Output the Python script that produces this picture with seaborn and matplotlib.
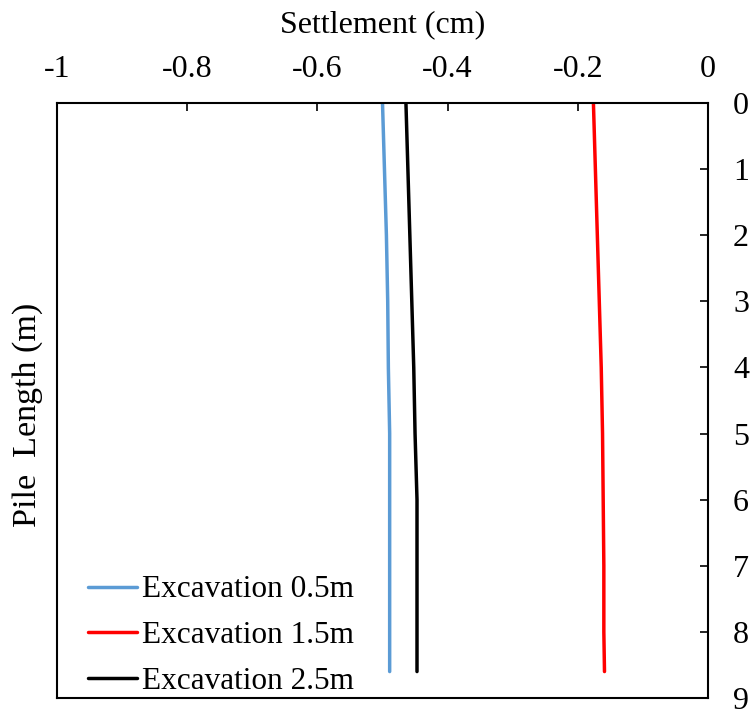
import numpy as np
import pandas as pd
import matplotlib
matplotlib.use("Agg")
import matplotlib.pyplot as plt
import seaborn as sns

# ---- data ----
depth = [0, 1, 2, 3, 4, 5, 6, 7, 8, 8.6]
exc_05 = [-0.500, -0.497, -0.494, -0.492, -0.491, -0.489, -0.489, -0.489, -0.489, -0.489]
exc_15 = [-0.176, -0.173, -0.170, -0.167, -0.164, -0.162, -0.161, -0.160, -0.160, -0.159]
exc_25 = [-0.464, -0.461, -0.458, -0.455, -0.452, -0.450, -0.447, -0.447, -0.447, -0.447]
labels = ["Excavation 0.5m", "Excavation 1.5m", "Excavation 2.5m"]
colors = ["#5B9BD5", "#FF0000", "#000000"]
x_ticks = [-1, -0.8, -0.6, -0.4, -0.2, 0]
x_tick_labels = ["-1", "-0.8", "-0.6", "-0.4", "-0.2", "0"]
y_ticks = [0, 1, 2, 3, 4, 5, 6, 7, 8, 9]

rows = []
for lab, vals in zip(labels, [exc_05, exc_15, exc_25]):
    for d, v in zip(depth, vals):
        rows.append({"Settlement": v, "Depth": d, "Case": lab})
df = pd.DataFrame(rows)

sns.set_style("white")
plt.rcParams["font.family"] = ["Liberation Serif", "DejaVu Serif"]
plt.rcParams["text.color"] = "black"
plt.rcParams["axes.labelcolor"] = "black"

fig = plt.figure(figsize=(7.56, 7.21), dpi=100)
ax = fig.add_axes([57 / 756, 1 - 698 / 721, (708 - 57) / 756, (698 - 103) / 721])

sns.lineplot(data=df, x="Settlement", y="Depth", hue="Case", sort=False,
             orient="y", estimator=None, palette=colors, hue_order=labels,
             linewidth=2.5, ax=ax)

ax.set_xlim(-1, 0)
ax.set_ylim(9, 0)
ax.xaxis.tick_top()
ax.xaxis.set_label_position("top")
ax.yaxis.tick_right()
ax.set_xticks(x_ticks)
ax.set_xticklabels(x_tick_labels)
ax.set_yticks(y_ticks)
ax.tick_params(axis="x", direction="in", length=6, width=1.2, labelsize=23,
               top=True, bottom=False, pad=14, colors="black")
ax.tick_params(axis="y", direction="in", length=6, width=1.2, labelsize=23,
               right=True, left=False, pad=18, colors="black")
for s in ax.spines.values():
    s.set_color("black")
    s.set_linewidth(1.5)

ax.set_xlabel("Settlement (cm)", fontsize=23, labelpad=16, color="black")
ax.set_ylabel("")
fig.text(28 / 756, 1 - 415 / 721, "Pile  Length (m)", rotation=90, fontsize=24.5,
         ha="center", va="center", color="black")

leg = ax.legend(loc="lower left", frameon=False, fontsize=22.5,
                handlelength=1.57, handletextpad=0.16, labelspacing=0.53,
                bbox_to_anchor=(0.028, -0.017), borderaxespad=0.0)
for line in leg.get_lines():
    line.set_linewidth(2.5)
for t in leg.get_texts():
    t.set_color("black")

fig.savefig("out.png", dpi=100)
